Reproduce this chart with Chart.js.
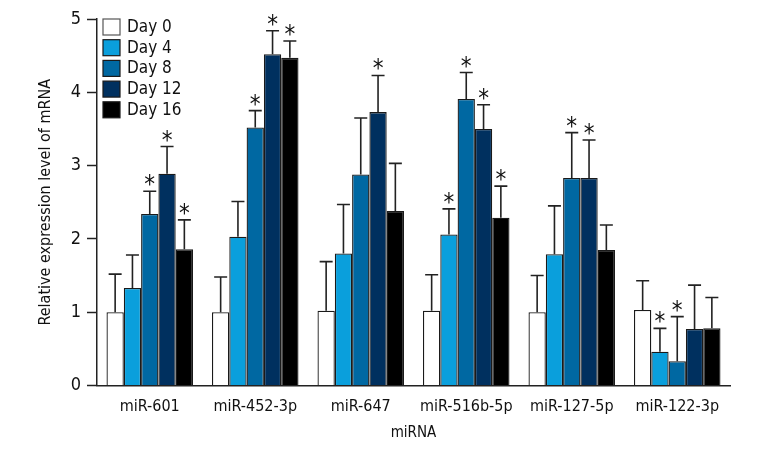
<!DOCTYPE html>
<html>
<head>
<meta charset="utf-8">
<script src="https://cdn.jsdelivr.net/npm/chart.js@4.4.0/dist/chart.umd.min.js"></script>
<style>
  html, body { margin: 0; padding: 0; background: #fff; }
  #wrap { width: 760px; height: 460px; position: relative; }
</style>
</head>
<body>
<div id="wrap"><canvas id="mirnaChart"></canvas></div>
<script>
"use strict";

// data
var categories = ['miR-601', 'miR-452-3p', 'miR-647', 'miR-516b-5p', 'miR-127-5p', 'miR-122-3p'];
var seriesNames = ['Day 0', 'Day 4', 'Day 8', 'Day 12', 'Day 16'];

var day0 = [1.00, 1.00, 1.02, 1.02, 1.00, 1.03];
var day4 = [1.33, 2.03, 1.80, 2.06, 1.79, 0.46];
var day8 = [2.34, 3.52, 2.88, 3.91, 2.83, 0.33];
var day12 = [2.89, 4.52, 3.73, 3.50, 2.83, 0.77];
var day16 = [1.86, 4.47, 2.38, 2.29, 1.85, 0.78];

// top of the error bar (mean + SD)
var day0Err = [1.52, 1.48, 1.69, 1.51, 1.50, 1.43];
var day4Err = [1.78, 2.51, 2.47, 2.41, 2.45, 0.78];
var day8Err = [2.65, 3.75, 3.65, 4.27, 3.45, 0.94];
var day12Err = [3.26, 4.84, 4.23, 3.83, 3.35, 1.37];
var day16Err = [2.26, 4.70, 3.03, 2.72, 2.19, 1.20];

// significance marks
var day0Sig = [false, false, false, false, false, false];
var day4Sig = [false, false, false, true, false, true];
var day8Sig = [true, true, false, true, true, true];
var day12Sig = [true, true, true, true, true, false];
var day16Sig = [true, true, false, true, false, false];

var yTicks = [0, 1, 2, 3, 4, 5];

var fillColors = ['#ffffff', '#0a9fdc', '#0068a2', '#00305f', '#000000'];
var fontFam = "'Liberation Sans Narrow', 'DejaVu Sans Condensed', 'Roboto', sans-serif";

var values = [day0, day4, day8, day12, day16];
var errs = [day0Err, day4Err, day8Err, day12Err, day16Err];
var sigs = [day0Sig, day4Sig, day8Sig, day12Sig, day16Sig];

var datasets = seriesNames.map(function (name, i) {
  return {
    label: name,
    data: values[i],
    errTop: errs[i],
    sig: sigs[i],
    backgroundColor: fillColors[i],
    borderColor: '#1a1a1a',
    borderWidth: 1.3,
    borderSkipped: 'bottom',
    categoryPercentage: 0.82,
    barPercentage: 1.0
  };
});

// error bars + asterisks
var errorBars = {
  id: 'errorBars',
  afterDatasetsDraw: function (chart) {
    var ctx = chart.ctx;
    var yScale = chart.scales.y;
    ctx.save();
    ctx.strokeStyle = '#222';
    ctx.lineWidth = 1.6;
    ctx.fillStyle = '#111';
    ctx.font = '24px ' + fontFam;
    ctx.textAlign = 'center';
    ctx.textBaseline = 'alphabetic';
    chart.data.datasets.forEach(function (ds, di) {
      var meta = chart.getDatasetMeta(di);
      meta.data.forEach(function (bar, i) {
        var yTop = yScale.getPixelForValue(ds.errTop[i]);
        ctx.beginPath();
        ctx.moveTo(bar.x, bar.y);
        ctx.lineTo(bar.x, yTop);
        ctx.moveTo(bar.x - 6.5, yTop);
        ctx.lineTo(bar.x + 6.5, yTop);
        ctx.stroke();
        if (ds.sig[i]) {
          ctx.fillText('*', bar.x, yTop + 1);
        }
      });
    });
    ctx.restore();
  }
};

// legend in the upper left of the plot
var boxLegend = {
  id: 'boxLegend',
  afterDraw: function (chart) {
    var ctx = chart.ctx;
    var area = chart.chartArea;
    var x0 = area.left + 6, y0 = area.top;
    ctx.save();
    ctx.font = '17px ' + fontFam;
    ctx.textBaseline = 'middle';
    ctx.textAlign = 'left';
    chart.data.datasets.forEach(function (ds, i) {
      var y = y0 + i * 20.7;
      ctx.fillStyle = ds.backgroundColor;
      ctx.fillRect(x0, y, 17, 16);
      ctx.strokeStyle = i === 0 ? '#555' : '#1a1a1a';
      ctx.lineWidth = 1.2;
      ctx.strokeRect(x0, y, 17, 16);
      ctx.fillStyle = '#111';
      ctx.fillText(ds.label, x0 + 24, y + 8.5);
    });
    ctx.restore();
  }
};

var el = document.getElementById('mirnaChart');
if (el) {
  new Chart(el, {
    type: 'bar',
    data: {
      labels: categories,
      datasets: datasets
    },
    options: {
      responsive: true,
      maintainAspectRatio: false,
      animation: false,
      layout: {
        padding: { left: 30, right: 30, top: 19, bottom: 14 }
      },
      scales: {
        x: {
          grid: { display: false, drawTicks: false },
          border: { display: true, color: '#222', width: 1.5 },
          ticks: {
            color: '#111',
            padding: 12,
            autoSkip: false,
            font: { family: fontFam, size: 16 },
            maxRotation: 0
          },
          title: {
            display: true,
            text: 'miRNA',
            color: '#111',
            font: { family: fontFam, size: 15 },
            padding: 4
          },
          afterFit: function (scale) { scale.height = 60.5; }
        },
        y: {
          min: 0,
          max: 5,
          afterBuildTicks: function (scale) {
            scale.ticks = yTicks.map(function (v) { return { value: v }; });
          },
          grid: {
            display: true,
            drawOnChartArea: false,
            drawTicks: true,
            tickLength: 10,
            tickWidth: 1.5,
            color: '#222'
          },
          border: { display: true, color: '#222', width: 1.5 },
          ticks: {
            color: '#111',
            padding: 6,
            font: { family: fontFam, size: 18 }
          },
          title: {
            display: true,
            text: 'Relative expression level of mRNA',
            color: '#111',
            font: { family: fontFam, size: 16 },
            padding: 6
          },
          afterFit: function (scale) { scale.width = 67; }
        }
      },
      plugins: {
        legend: { display: false },
        tooltip: { enabled: false }
      }
    },
    plugins: [errorBars, boxLegend]
  });
}
</script>
</body>
</html>
